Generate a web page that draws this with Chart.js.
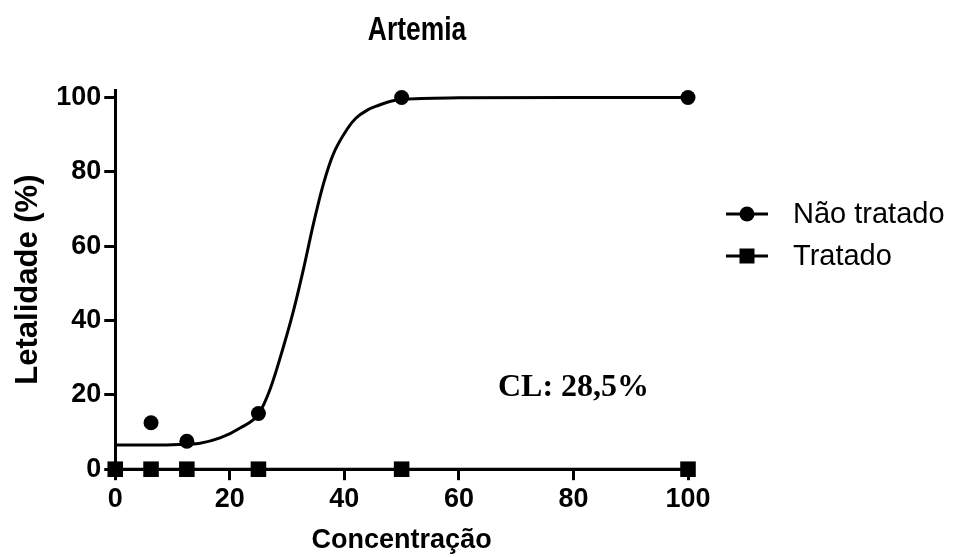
<!DOCTYPE html>
<html>
<head>
<meta charset="utf-8">
<script src="https://cdn.jsdelivr.net/npm/chart.js@4"></script>
<style>
  html, body { margin: 0; padding: 0; background: #fff; }
  #wrap { width: 954px; height: 557px; position: relative; }
</style>
</head>
<body>
<div id="wrap"><canvas id="artemiaChart"></canvas></div>
<script>
const chartTitle = 'Artemia';
const xTitle = 'Concentração';
const yTitle = 'Letalidade (%)';
const clText = 'CL: 28,5%';

const concentrations = [0, 6.25, 12.5, 25, 50, 100];
const naoTratado = [null, 12.5, 7.5, 15, 100, 100];
const tratado = [0, 0, 0, 0, 0, 0];

// fitted curve
const fitX = [0, 5, 10, 14.8, 18.3, 21.8, 25, 27.1, 29.3, 31.1, 32.8, 34.6, 36.3, 38.0, 40.5, 42, 44.0, 46, 47.5, 50, 60, 80, 100];
const fitY = [6.5, 6.5, 6.6, 7.0, 8.4, 11.1, 14.8, 21.8, 32.6, 42.5, 53.4, 66.0, 76.5, 84.5, 91.5, 94.4, 96.6, 97.9, 98.7, 99.5, 99.9, 100, 100];

const xTicks = [0, 20, 40, 60, 80, 100];
const yTicks = [0, 20, 40, 60, 80, 100];

const sans = '"Liberation Sans", Arial, sans-serif';

function toPoints(xs, ys) {
  return xs.map((x, i) => ({ x: x, y: ys[i] })).filter(p => p.y !== null);
}

const extrasPlugin = {
  id: 'extras',
  afterDraw(chart) {
    const ctx = chart.ctx;
    ctx.save();
    ctx.fillStyle = '#000';
    ctx.textBaseline = 'middle';

    // title (condensed look)
    ctx.save();
    ctx.font = 'bold 33px ' + sans;
    ctx.textAlign = 'center';
    ctx.translate(417, 31);
    ctx.scale(0.8, 1);
    ctx.fillText(chartTitle, 0, 0);
    ctx.restore();

    // CL annotation
    ctx.font = 'bold 32px "Liberation Serif", "Times New Roman", serif';
    ctx.textAlign = 'left';
    ctx.fillText(clText, 498, 388);

    // legend
    const items = [
      { label: chart.data.datasets[1].label, style: 'circle', y: 214 },
      { label: chart.data.datasets[2].label, style: 'rect', y: 256 }
    ];
    items.forEach(it => {
      ctx.strokeStyle = '#000';
      ctx.lineWidth = 3;
      ctx.beginPath();
      ctx.moveTo(726, it.y);
      ctx.lineTo(768, it.y);
      ctx.stroke();
      ctx.beginPath();
      if (it.style === 'circle') {
        ctx.arc(747, it.y, 7.5, 0, Math.PI * 2);
      } else {
        ctx.rect(739.5, it.y - 7.5, 15, 15);
      }
      ctx.fill();
      ctx.font = '29px ' + sans;
      ctx.fillText(it.label, 793, it.y + 1);
    });
    ctx.restore();
  }
};

const axisCommon = {
  type: 'linear',
  border: { display: true, color: '#000', width: 3 },
  grid: { drawOnChartArea: false, color: '#000', tickLength: 11, tickWidth: 3, tickColor: '#000' },
  ticks: { color: '#000', font: { family: sans, size: 27, weight: 'bold' }, padding: 3 }
};

new Chart(document.getElementById('artemiaChart'), {
  type: 'scatter',
  data: {
    datasets: [
      {
        label: 'Ajuste',
        data: toPoints(fitX, fitY),
        showLine: true,
        borderColor: '#000',
        borderWidth: 3,
        pointRadius: 0,
        cubicInterpolationMode: 'monotone',
        clip: false,
        order: 3
      },
      {
        label: 'Não tratado',
        data: toPoints(concentrations, naoTratado),
        showLine: false,
        pointStyle: 'circle',
        pointRadius: 7.5,
        pointBackgroundColor: '#000',
        pointBorderWidth: 0,
        clip: false,
        order: 1
      },
      {
        label: 'Tratado',
        data: toPoints(concentrations, tratado),
        showLine: true,
        borderColor: '#000',
        borderWidth: 3,
        pointStyle: 'rect',
        pointRadius: 11,
        pointBackgroundColor: '#000',
        pointBorderWidth: 0,
        clip: false,
        order: 2
      }
    ]
  },
  options: {
    responsive: true,
    maintainAspectRatio: false,
    animation: false,
    layout: { padding: { top: 90, right: 266, bottom: 0, left: 10 } },
    plugins: {
      legend: { display: false },
      title: { display: false },
      tooltip: { enabled: false }
    },
    scales: {
      x: Object.assign({}, axisCommon, {
        min: 0, max: 100,
        afterBuildTicks: s => { s.ticks = xTicks.map(v => ({ value: v })); },
        title: { display: true, text: xTitle, color: '#000', font: { family: sans, size: 27, weight: 'bold' }, padding: { top: 6, bottom: 0 } }
      }),
      y: Object.assign({}, axisCommon, {
        min: 0, max: 102,
        afterBuildTicks: s => { s.ticks = yTicks.map(v => ({ value: v })); },
        title: { display: true, text: yTitle, color: '#000', font: { family: sans, size: 31, weight: 'bold' }, padding: { top: 0, bottom: 6 } }
      })
    }
  },
  plugins: [extrasPlugin]
});
</script>
</body>
</html>
